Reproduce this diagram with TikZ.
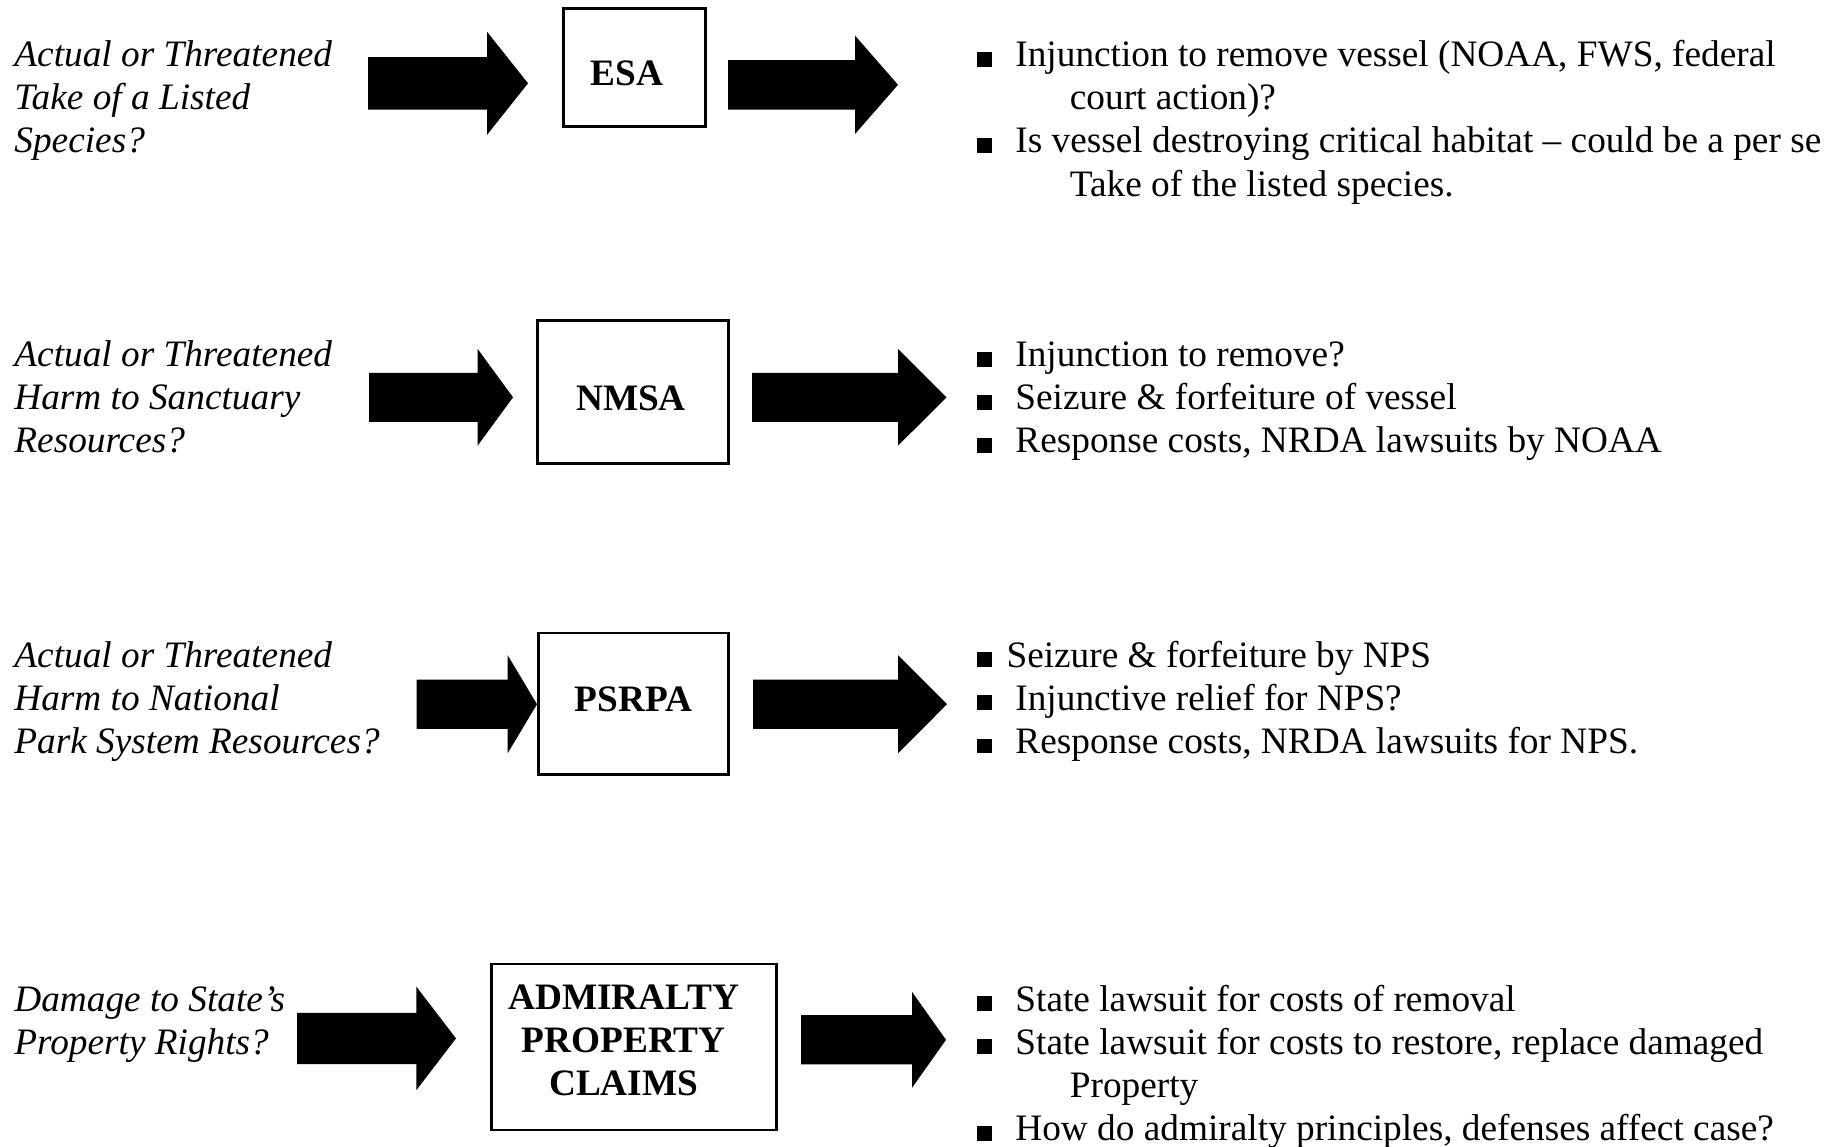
\documentclass[tikz,border=0pt]{standalone}
\usepackage{fontspec}
\setmainfont{Liberation Serif}

% body text size and leading
\newcommand\bodysize{\fontsize{18.65}{21.6}\selectfont}
% square bullet
\newcommand\sqb{\rule{7.6pt}{7.4pt}}
% bullet line, continuation line
\newcommand\bitem[1]{\hbox{\makebox[19.25pt][l]{\sqb}#1}}
\newcommand\bitemtight[1]{\hbox{\makebox[14.8pt][l]{\sqb}#1}}
\newcommand\cont[1]{\hbox{\hspace*{46.5pt}#1}}
\newcommand\pline[1]{\hbox{#1}}
% block arrow: shaft left x, head base x, tip x, centre y, shaft half height, head half height
\newcommand\blkarrow[6]{%
  \fill (#1,#4-#5) -- (#2,#4-#5) -- (#2,#4-#6) -- (#3,#4)
        -- (#2,#4+#6) -- (#2,#4+#5) -- (#1,#4+#5) -- cycle;}

\tikzset{
  lawbox/.style={draw, line width=1.35pt, inner sep=0pt, anchor=center,
                 font=\bodysize\bfseries, text depth=0pt},
  issue/.style={anchor=base west, inner sep=0pt, font=\bodysize\itshape},
  remedy/.style={anchor=base west, inner sep=0pt, font=\bodysize},
}

\begin{document}
\begin{tikzpicture}[x=0.5pt, y=-0.5pt]
\path[fill=white, use as bounding box] (0,0) rectangle (1841,1146);

% ---------- ESA ----------
\node[issue] (q1) at (14,66) {\vtop{%
  \pline{Actual or Threatened}\pline{Take of a Listed}\pline{Species?}}};
\blkarrow{368}{487}{528}{83.3}{26.3}{51.6}
\node[lawbox, minimum width=71pt, minimum height=59pt, text height=18.2pt]
  (esa) at (634.25,67.75) {ESA\kern7.5pt};
\blkarrow{728}{855}{898}{84.8}{24.7}{49.2}
\node[remedy] (r1) at (976.5,66.5) {\vtop{%
  \bitem{Injunction to remove vessel (NOAA, FWS, federal}
  \cont{court action)?}
  \bitem{Is vessel destroying critical habitat – could be a per se}
  \cont{Take of the listed species.}}};

% ---------- NMSA ----------
\node[issue] (q2) at (14,366) {\vtop{%
  \pline{Actual or Threatened}\pline{Harm to Sanctuary}\pline{Resources?}}};
\blkarrow{369}{477.6}{513}{397.3}{24.5}{48.4}
\node[lawbox, minimum width=95.25pt, minimum height=71.75pt, text height=18pt]
  (nmsa) at (633,392) {NMSA\kern2pt};
\blkarrow{752}{898}{946.5}{397.3}{24.5}{48.4}
\node[remedy] (r2) at (976.5,366.5) {\vtop{%
  \bitem{Injunction to remove?}
  \bitem{Seizure \& forfeiture of vessel}
  \bitem{Response costs, NRDA lawsuits by NOAA}}};

% ---------- PSRPA ----------
\node[issue] (q3) at (14,667) {\vtop{%
  \pline{Actual or Threatened}\pline{Harm to National}\pline{Park System Resources?}}};
\blkarrow{416.5}{507.6}{537}{704.2}{24.6}{49.1}
\node[lawbox, minimum width=95.25pt, minimum height=70.8pt, text height=7.4pt]
  (psrpa) at (633.5,703.85) {PSRPA};
\blkarrow{753}{898}{947}{704.2}{24.6}{49.1}
\node[remedy] (r3) at (976.5,667) {\vtop{%
  \bitemtight{Seizure \& forfeiture by NPS}
  \bitem{Injunctive relief for NPS?}
  \bitem{Response costs, NRDA lawsuits for NPS.}}};

% ---------- Admiralty ----------
\node[issue] (q4) at (14,1011) {\vtop{%
  \pline{Damage to State’s}\pline{Property Rights?}}};
\blkarrow{297}{416.4}{456}{1038.4}{25.6}{51.7}
\node[lawbox, minimum width=142.5pt, minimum height=83pt, text height=0pt, text depth=38pt]
  (adm) at (633.75,1047.1)
  {\begin{tabular}[t]{@{}c@{}}ADMIRALTY\\PROPERTY\\CLAIMS\end{tabular}\kern10pt};
\blkarrow{801}{912}{946}{1039.8}{24.6}{48}
\node[remedy] (r4) at (976.5,1011) {\vtop{%
  \bitem{State lawsuit for costs of removal}
  \bitem{State lawsuit for costs to restore, replace damaged}
  \cont{Property}
  \bitem{How do admiralty principles, defenses affect case?}}};
\end{tikzpicture}
\end{document}
